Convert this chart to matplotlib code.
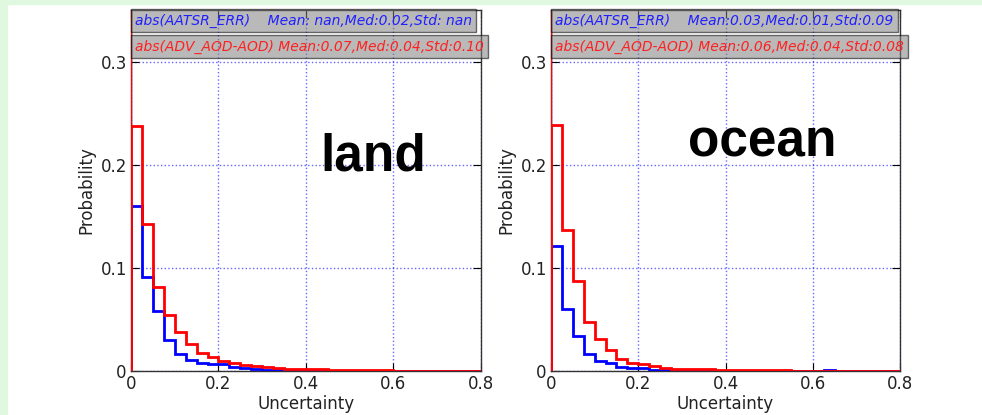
import matplotlib
matplotlib.use("Agg")
import matplotlib.pyplot as plt
import numpy as np
from matplotlib.ticker import FuncFormatter

# histogram bin edges (uncertainty), width 0.025
edges = np.arange(0, 0.8001, 0.025)

land_aatsr = [0.160, 0.0913, 0.0585, 0.030, 0.0165, 0.0106, 0.0080, 0.0065,
              0.0065, 0.0042, 0.0030, 0.0017, 0.0008, 0.0006, 0.0005, 0.0004,
              0.0003, 0.0003, 0.0002, 0.0002, 0.0002, 0.0002, 0.0003, 0.0003,
              0.0002, 0.0001, 0.0001, 0.0001, 0.0001, 0.0001, 0.0001, 0.0001]
land_adv = [0.2375, 0.1423, 0.081, 0.054, 0.0375, 0.026, 0.0177, 0.0139,
            0.0094, 0.0077, 0.0058, 0.0045, 0.0035, 0.0029, 0.0022, 0.0019,
            0.0015, 0.0015, 0.0008, 0.0008, 0.0008, 0.0006, 0.0008, 0.0008,
            0.0002, 0.0001, 0.0001, 0.0001, 0.0001, 0.0001, 0.0001, 0.0001]
ocean_aatsr = [0.1213, 0.0597, 0.0339, 0.0165, 0.0100, 0.0074, 0.0042, 0.0026,
               0.0026, 0.0006, 0.0008, 0.0002, 0.0002, 0.0001, 0.0001, 0.0001,
               0.0001, 0.0003, 0.0003, 0.0003, 0.0001, 0.0001, 0.0003, 0.0001,
               0.0001, 0.0010, 0.0001, 0.0001, 0.0001, 0.0001, 0.0001, 0.0001]
ocean_adv = [0.2387, 0.1365, 0.0871, 0.0471, 0.0306, 0.0203, 0.0119, 0.0080,
             0.0065, 0.0052, 0.0030, 0.0022, 0.0016, 0.0016, 0.0016, 0.0009,
             0.0009, 0.0009, 0.0009, 0.0009, 0.0009, 0.0009, 0.0003, 0.0003,
             0.0003, 0.0003, 0.0003, 0.0003, 0.0003, 0.0003, 0.0003, 0.0003]

land_labels = ["abs(AATSR_ERR)    Mean: nan,Med:0.02,Std: nan",
               "abs(ADV_AOD-AOD) Mean:0.07,Med:0.04,Std:0.10"]
ocean_labels = ["abs(AATSR_ERR)    Mean:0.03,Med:0.01,Std:0.09",
                "abs(ADV_AOD-AOD) Mean:0.06,Med:0.04,Std:0.08"]

xticks = [0, 0.2, 0.4, 0.6, 0.8]
yticks = [0, 0.1, 0.2, 0.3]
ymax = 0.35


def fmt(v, pos):
    return "0" if abs(v) < 1e-9 else f"{v:g}"


fig = plt.figure(figsize=(9.82, 4.15), dpi=100, facecolor="white")
# light green page border
fig.patches.append(plt.Rectangle((0, 0), 0.007, 1, transform=fig.transFigure,
                                 color="#e0f8e0", zorder=0))
fig.patches.append(plt.Rectangle((0, 0.991), 1, 0.009, transform=fig.transFigure,
                                 color="#e0f8e0", zorder=0))

panels = [
    ([0.1334, 0.106, 0.3564, 0.870], land_aatsr, land_adv, land_labels, "land", (0.432, 0.1946)),
    ([0.5611, 0.106, 0.3554, 0.870], ocean_aatsr, ocean_adv, ocean_labels, "ocean", (0.315, 0.208)),
]

for rect, blue_vals, red_vals, labels, name, pos in panels:
    ax = fig.add_axes(rect)
    ax.vlines(edges[0], 0, ymax, color="blue", lw=1.5, zorder=3)
    ax.stairs(blue_vals, edges, color="blue", lw=2, zorder=3)
    ax.vlines(edges[0], 0, ymax, color="red", lw=1, zorder=4)
    ax.stairs(red_vals, edges, color="red", lw=2, zorder=4)

    ax.set_xlim(0, 0.8)
    ax.set_ylim(0, ymax)
    ax.set_xticks(xticks)
    ax.set_yticks(yticks)
    ax.xaxis.set_major_formatter(FuncFormatter(fmt))
    ax.yaxis.set_major_formatter(FuncFormatter(fmt))
    ax.tick_params(direction="in", top=True, right=True, length=6, labelsize=12, pad=3,
                   labelcolor="#222222")
    ax.grid(True, color="blue", linestyle=":", lw=1, alpha=0.6)
    for s in ax.spines.values():
        s.set_color("#333333")
        s.set_linewidth(1)
    ax.set_xlabel("Uncertainty", fontsize=12, labelpad=1, color="#222222")
    ax.set_ylabel("Probability", fontsize=12, labelpad=4, color="#222222")

    ax.text(0.012, 0.99, labels[0], transform=ax.transAxes, color="#2020ff",
            style="italic", fontsize=10, va="top", ha="left", zorder=6,
            bbox=dict(boxstyle="square,pad=0.3", fc="gray", ec="black", alpha=0.55))
    ax.text(0.012, 0.918, labels[1], transform=ax.transAxes, color="#ff2020",
            style="italic", fontsize=10, va="top", ha="left", zorder=6,
            bbox=dict(boxstyle="square,pad=0.3", fc="gray", ec="black", alpha=0.55))

    ax.text(pos[0], pos[1], name, fontsize=37, fontweight="bold",
            family="Liberation Sans", va="baseline", ha="left")

fig.savefig("out.png", dpi=100, facecolor=fig.get_facecolor())
